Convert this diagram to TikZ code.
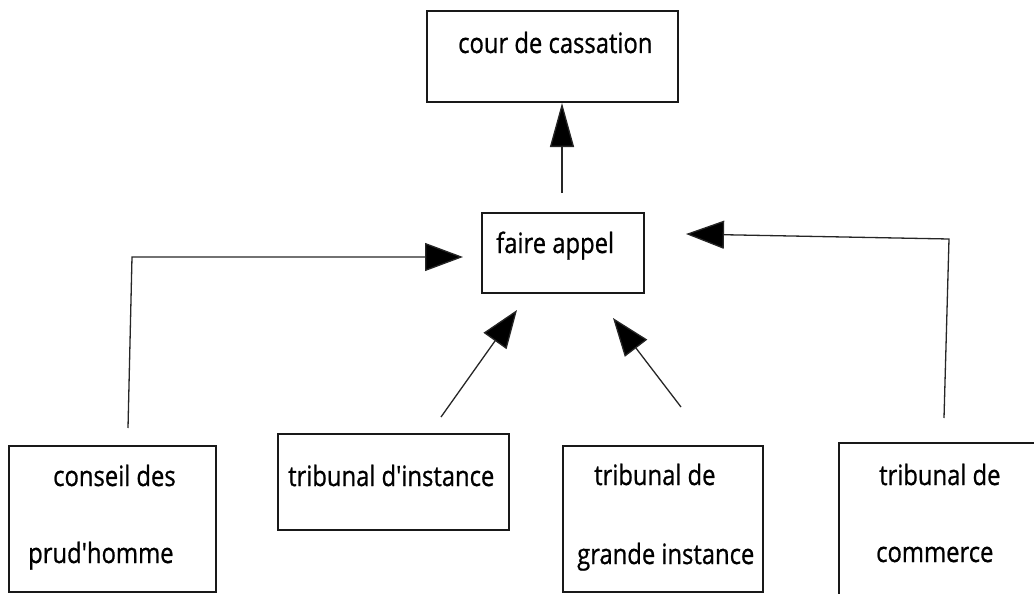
\documentclass[tikz,border=0pt]{standalone}
\usepackage{fontspec}
\setmainfont{Open Sans}[FakeStretch=0.85,FakeBold=0.8,Ligatures=TeXOff]
\usetikzlibrary{arrows.meta}
\begin{document}
\begin{tikzpicture}[x=1pt,y=-1pt,
  box/.style={draw=black!90,line width=1.8pt,rectangle,inner sep=0pt,outer sep=0pt},
  lbl/.style={inner sep=0pt,anchor=base west,font=\fontsize{28}{34}\selectfont,text=black},
  conn/.style={draw=black!85,line width=1.3pt,-{Triangle[length=38pt,width=28pt,fill=black]}}]
\useasboundingbox (0,0) rectangle (1034,594);
% boxes
\node[box,minimum width=251pt,minimum height=91pt] (cour) at (552.5,56.5) {};
\node[box,minimum width=162pt,minimum height=80pt] (appel) at (563,253) {};
\node[box,minimum width=207pt,minimum height=146pt] (conseil) at (112.5,519) {};
\node[box,minimum width=231pt,minimum height=96pt] (instance) at (393.5,482) {};
\node[box,minimum width=200pt,minimum height=146pt] (grande) at (663,519) {};
\node[box,minimum width=215pt,minimum height=175pt] (commerce) at (946.5,530.5) {};
% texts
\node[lbl] (tcour) at (458,53) {cour de cassation};
\node[lbl] (tappel) at (496,253) {faire appel};
\node[lbl] (tcons1) at (53,486) {conseil des};
\node[lbl] (tcons2) at (28,563) {prud'homme};
\node[lbl] (tinst) at (288,486) {tribunal d'instance};
\node[lbl] (tgr1) at (594,485) {tribunal de};
\node[lbl] (tgr2) at (577,564) {grande instance};
\node[lbl] (tcom1) at (879,485) {tribunal de};
\node[lbl] (tcom2) at (876,562) {commerce};
% connector end points
\coordinate (a0) at (562,193); \coordinate (a1) at (562,103);
\coordinate (b0) at (128,428); \coordinate (b1) at (132,257); \coordinate (b2) at (463,257);
\coordinate (c0) at (441,417); \coordinate (c1) at (517,310);
\coordinate (d0) at (681,407); \coordinate (d1) at (613,318);
\coordinate (e0) at (944,418); \coordinate (e1) at (949,239); \coordinate (e2) at (686,234);
% connectors
\draw[conn,-{Triangle[length=44pt,width=24pt,fill=black]}] (a0) -- (a1);
\draw[conn] (b0) -- (b1) -- (b2);
\draw[conn] (c0) -- (c1);
\draw[conn] (d0) -- (d1);
\draw[conn] (e0) -- (e1) -- (e2);
\end{tikzpicture}
\end{document}
